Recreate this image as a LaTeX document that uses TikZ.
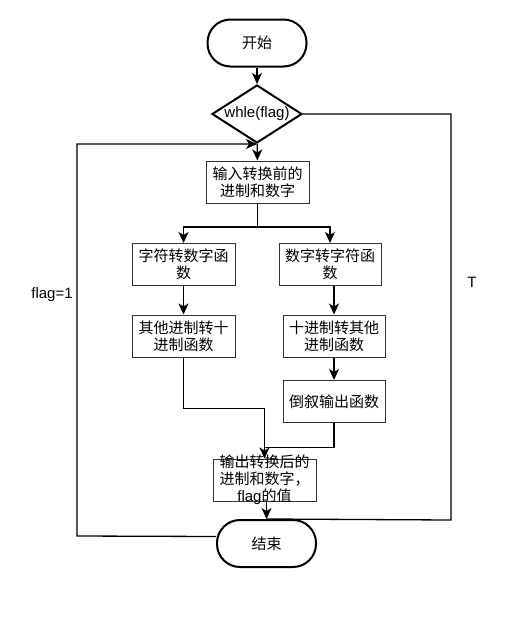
\documentclass[tikz,border=0pt]{standalone}
\usepackage{fontspec}
\setmainfont{Liberation Sans}
\newfontfamily\cjk{Noto Sans CJK SC}
\usetikzlibrary{arrows.meta,positioning,shapes.geometric,calc}

\begin{document}
\begin{tikzpicture}[x=1pt, y=-1pt, every node/.style={font=\fontsize{15}{17}\selectfont}, box/.style={draw=black!80, line width=1pt, align=center, minimum width=103pt, minimum height=42pt, inner sep=0pt}, term/.style={draw, line width=2pt, rounded corners=23pt, minimum width=99pt, minimum height=47pt}, cond/.style={draw, diamond, line width=2pt, aspect=1.55, inner sep=0pt, minimum width=90pt, minimum height=58pt}, arrow/.style={-{Stealth[length=11pt,width=10pt,inset=3pt]}, line width=1.3pt}, line/.style={line width=1.3pt}]
\useasboundingbox (0,0) rectangle (525,622);
\node[term] (start) at (257,43) {\cjk 开始};
\node[cond] (loop) at (257,114) {whle(flag)};
\node[box] (input) at (257.5,182) {\cjk 输入转换前的\\\cjk 进制和数字};
\node[box] (chtonum) at (183.5,264.5) {\cjk 字符转数字函\\\cjk 数};
\node[box, minimum width=102pt] (numtoch) at (330,264.5) {\cjk 数字转字符函\\\cjk 数};
\node[box] (todec) at (183.5,336) {\cjk 其他进制转十\\\cjk 进制函数};
\node[box, minimum width=102pt] (fromdec) at (334,336) {\cjk 十进制转其他\\\cjk 进制函数};
\node[box, minimum width=102pt] (reverse) at (334,401.5) {\cjk 倒叙输出函数};
\node[box] (output) at (264.5,480) {};
\node[align=center, inner sep=0pt] (outtext) at (output) {\cjk 输出转换后的\\\cjk 进制和数字，\\flag{\cjk 的值}};
\node[term] (end) at (266.5,543.5) {\cjk 结束};
\node (flaglbl) at (52,295) {flag=1};
\node (tlbl) at (472,282) {T};
\coordinate (split) at (257.5,227);
\coordinate (rloop) at (451,520);
\coordinate (lloop) at (77,536);
\draw[arrow] (start) -- (loop);
\draw[arrow] (loop) -- (input);
\draw[line] (input) -- (split);
\draw[arrow] (split) -| (chtonum.north);
\draw[arrow] (split) -| (numtoch.north);
\draw[arrow] (chtonum) -- (todec);
\draw[arrow] (fromdec.north |- numtoch.south) -- (fromdec.north);
\draw[arrow] (fromdec) -- (reverse);
\draw[arrow] (todec.south) |- ([yshift=50pt]output.north) -- (output.north);
\draw[line] (reverse.south) |- ([yshift=11pt]output.north);
\draw[arrow] (end.north |- output.south) -- (end.north);
\draw[line] (loop.east) -| (rloop) -- (end.north);
\draw[arrow] ([yshift=7pt]end.west) -- (lloop) |- (loop.south);
\end{tikzpicture}
\end{document}
